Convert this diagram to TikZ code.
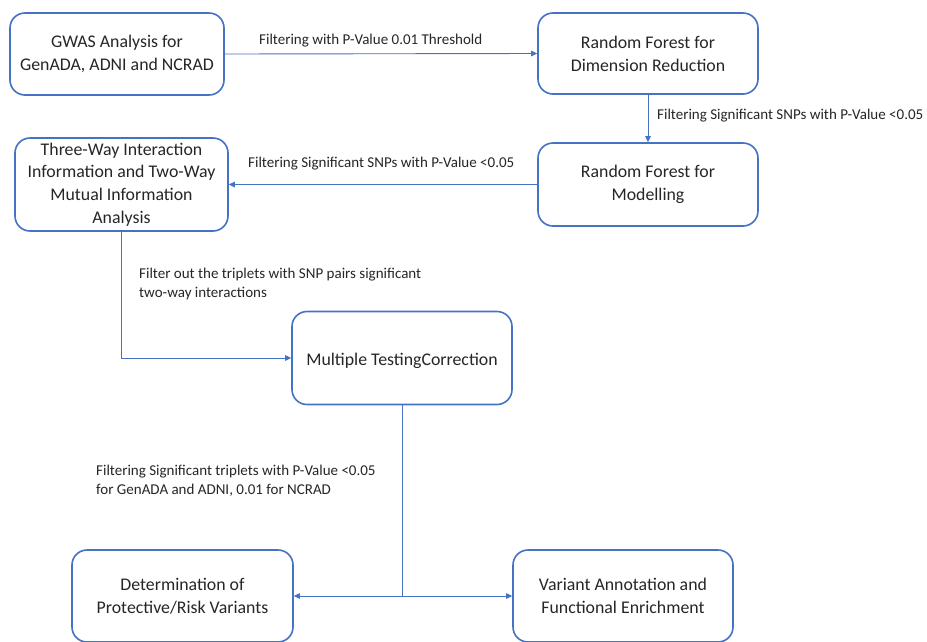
\documentclass[tikz,border=0pt]{standalone}
\usepackage{fontspec}
\setmainfont{Carlito}
\usetikzlibrary{arrows.meta}
\definecolor{bblue}{HTML}{4472C4}
\definecolor{txt}{HTML}{262626}
\begin{document}
\begin{tikzpicture}[x=1pt,y=-1pt,
  box/.style={draw=bblue,line width=1.6pt,rounded corners=15pt,minimum width=220pt,inner sep=0pt,align=center,text=txt,font=\fontsize{17.8}{22.8}\selectfont,execute at begin node={\rule{0pt}{19pt}}},
  conn/.style={draw=bblue,line width=0.9pt,-{Triangle[length=6pt,width=5.5pt]}},
  lbl/.style={text=txt,font=\fontsize{15}{19}\selectfont,inner sep=0pt,align=left}]
\useasboundingbox[fill=white] (0,0) rectangle (927,641);
\node[box,minimum width=214pt,minimum height=82pt] (gwas) at (117,54) {GWAS Analysis for\\GenADA, ADNI and NCRAD};
\node[box,minimum height=81pt] (rfdr) at (648,53.5) {Random Forest for\\Dimension Reduction};
\node[box,minimum height=83pt] (rfm) at (648,184.5) {Random Forest for\\Modelling};
\node[box,minimum width=213pt,minimum height=93pt] (three) at (121.5,184.5) {Three-Way Interaction\\Information and Two-Way\\Mutual Information\\Analysis};
\node[box,minimum height=93pt] (mtc) at (402,358) {Multiple TestingCorrection};
\node[box,minimum width=221pt,minimum height=92pt] (det) at (182.5,596) {Determination of\\Protective/Risk Variants};
\node[box,minimum height=92pt] (var) at (623,596) {Variant Annotation and\\Functional Enrichment};
\coordinate (c1) at (three.south |- mtc.west);
\coordinate (c2) at (mtc.south |- det.east);
\draw[conn] (gwas.east) -- (rfdr.west);
\draw[conn] (rfdr.south) -- (rfm.north);
\draw[conn] (rfm.west) -- (three.east);
\draw[conn] (three.south) -- (c1) -- (mtc.west);
\draw[draw=bblue,line width=0.9pt] (mtc.south) -- (c2);
\draw[conn] (c2) -- (det.east);
\draw[conn] (c2) -- (var.west);
\node[lbl,anchor=west] (l1) at (259,41) {Filtering with P-Value 0.01 Threshold};
\node[lbl,anchor=west] (l2) at (657,116) {Filtering Significant SNPs with P-Value <0.05};
\node[lbl,anchor=west] (l3) at (248,164) {Filtering Significant SNPs with P-Value <0.05};
\node[lbl,anchor=west] (l4) at (139,284) {Filter out the triplets with SNP pairs significant\\two-way interactions};
\node[lbl,anchor=west] (l5) at (96,481) {Filtering Significant triplets with P-Value <0.05\\for GenADA and ADNI, 0.01 for NCRAD};
\end{tikzpicture}
\end{document}
